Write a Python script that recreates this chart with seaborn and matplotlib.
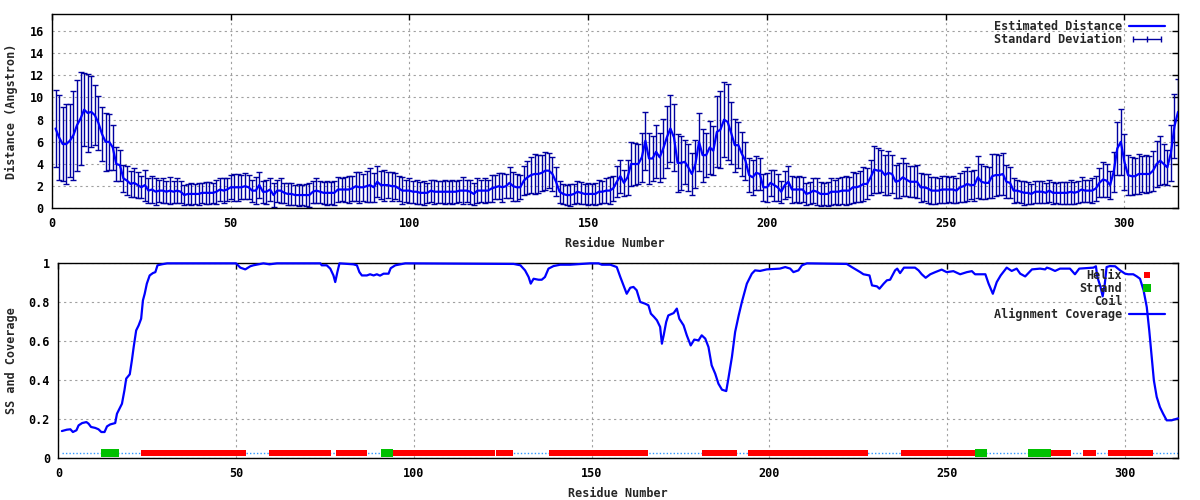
import numpy as np
import matplotlib
matplotlib.use("Agg")
import matplotlib.pyplot as plt
from matplotlib.lines import Line2D
from matplotlib.legend_handler import HandlerLine2D
import seaborn as sns

sns.set_style("white")
plt.rcParams['font.family'] = ['DejaVu Sans Mono', 'DejaVu Sans']
plt.rcParams['font.weight'] = 'bold'
plt.rcParams['axes.labelweight'] = 'bold'
plt.rcParams['font.size'] = 8.5

# --- data ---
N_RES = 315
residues = np.arange(1, N_RES + 1)

distance = [
    7.2, 6.4, 5.8, 5.8, 6.1, 6.6, 7.5, 8.1, 8.9, 8.6,
    8.7, 8.4, 7.7, 6.7, 6.0, 6.0, 5.5, 4.0, 3.9, 2.7,
    2.5, 2.2, 2.3, 2.1, 1.9, 2.1, 1.6, 1.7, 1.5, 1.6,
    1.6, 1.5, 1.6, 1.5, 1.6, 1.5, 1.2, 1.3, 1.3, 1.3,
    1.3, 1.4, 1.4, 1.4, 1.4, 1.5, 1.7, 1.6, 1.7, 1.9,
    1.9, 1.9, 1.9, 2.0, 1.9, 1.6, 1.6, 2.1, 1.5, 1.5,
    1.7, 1.2, 1.6, 1.6, 1.4, 1.3, 1.3, 1.2, 1.2, 1.2,
    1.2, 1.2, 1.5, 1.6, 1.5, 1.4, 1.4, 1.4, 1.4, 1.7,
    1.7, 1.7, 1.7, 1.8, 2.0, 1.9, 1.9, 2.0, 2.1, 1.9,
    2.4, 2.1, 2.1, 2.1, 2.0, 2.0, 1.8, 1.6, 1.6, 1.6,
    1.5, 1.5, 1.4, 1.4, 1.4, 1.6, 1.5, 1.5, 1.5, 1.5,
    1.5, 1.5, 1.5, 1.6, 1.6, 1.6, 1.5, 1.3, 1.6, 1.6,
    1.6, 1.6, 1.8, 1.9, 2.0, 1.9, 2.0, 2.3, 2.0, 1.9,
    1.9, 2.5, 2.8, 3.0, 3.1, 3.1, 3.2, 3.4, 3.4, 3.1,
    2.4, 1.5, 1.3, 1.2, 1.2, 1.3, 1.5, 1.4, 1.3, 1.3,
    1.3, 1.3, 1.5, 1.5, 1.6, 1.6, 1.8, 2.4, 2.9, 2.3,
    2.8, 4.0, 4.0, 4.0, 4.6, 6.1, 4.5, 4.5, 5.1, 4.6,
    5.4, 6.4, 7.2, 6.4, 4.1, 4.1, 4.2, 3.7, 3.1, 4.0,
    6.0, 4.8, 4.8, 5.5, 5.2, 6.9, 7.1, 8.0, 7.8, 6.8,
    5.7, 5.7, 4.9, 4.3, 3.0, 2.8, 3.2, 3.1, 1.9, 1.9,
    2.3, 2.1, 1.9, 1.5, 2.1, 2.4, 1.7, 1.7, 1.7, 1.7,
    1.3, 1.4, 1.6, 1.5, 1.3, 1.3, 1.3, 1.5, 1.5, 1.5,
    1.6, 1.6, 1.6, 1.9, 1.9, 2.0, 2.2, 2.2, 2.8, 3.5,
    3.4, 3.4, 3.0, 3.2, 3.1, 2.4, 2.5, 2.8, 2.6, 2.4,
    2.4, 2.4, 1.9, 1.9, 1.8, 1.6, 1.6, 1.6, 1.7, 1.7,
    1.7, 1.7, 1.6, 1.9, 2.0, 2.2, 2.1, 2.1, 2.8, 2.4,
    2.3, 2.3, 2.9, 3.0, 3.0, 3.1, 2.4, 2.3, 1.6, 1.6,
    1.5, 1.4, 1.4, 1.3, 1.5, 1.5, 1.5, 1.4, 1.6, 1.4,
    1.4, 1.4, 1.4, 1.4, 1.5, 1.4, 1.5, 1.7, 1.6, 1.6,
    1.6, 1.8, 2.3, 2.6, 2.5, 2.1, 3.3, 5.4, 6.0, 4.2,
    3.0, 2.9, 2.9, 3.1, 3.1, 3.1, 3.1, 3.4, 4.0, 4.3,
    4.0, 3.7, 5.0, 7.4, 8.7,
]

std_dev = [
    3.5, 3.8, 3.3, 3.6, 3.3, 4.0, 4.1, 4.2, 3.3, 3.5,
    3.2, 2.7, 2.4, 2.4, 2.6, 2.5, 2.0, 1.5, 1.4, 1.2,
    1.3, 1.2, 1.3, 1.2, 1.0, 1.4, 1.1, 1.2, 1.2, 1.0,
    1.1, 1.0, 1.2, 1.0, 1.1, 1.0, 0.9, 0.9, 1.0, 0.9,
    1.0, 0.9, 1.0, 1.0, 0.9, 1.1, 1.0, 1.1, 1.0, 1.1,
    1.2, 1.2, 1.1, 1.2, 1.1, 1.0, 1.2, 1.2, 1.0, 1.1,
    1.0, 1.1, 1.0, 1.1, 0.9, 1.0, 1.0, 0.9, 1.0, 0.9,
    1.0, 1.1, 1.0, 1.1, 1.0, 1.0, 1.1, 1.0, 1.1, 1.1,
    1.0, 1.1, 1.2, 1.1, 1.3, 1.4, 1.2, 1.4, 1.5, 1.3,
    1.4, 1.3, 1.4, 1.2, 1.3, 1.2, 1.1, 1.2, 1.0, 1.1,
    1.0, 1.1, 1.0, 1.1, 0.9, 1.0, 1.1, 1.0, 1.0, 1.1,
    1.0, 1.1, 1.0, 1.0, 1.2, 1.0, 1.1, 1.0, 1.1, 1.0,
    1.1, 1.0, 1.2, 1.1, 1.2, 1.3, 1.1, 1.4, 1.3, 1.2,
    1.1, 1.3, 1.5, 1.6, 1.8, 1.7, 1.6, 1.7, 1.6, 1.5,
    1.3, 1.0, 0.9, 0.9, 1.0, 0.9, 1.0, 1.0, 0.9, 1.0,
    0.9, 1.0, 1.1, 1.0, 1.1, 1.2, 1.1, 1.4, 1.5, 1.2,
    1.6, 2.0, 1.9, 1.8, 2.2, 2.6, 2.3, 2.0, 2.4, 2.2,
    2.7, 2.8, 3.0, 3.0, 2.6, 2.4, 2.0, 2.1, 1.9, 2.2,
    2.6, 2.4, 2.0, 2.4, 2.2, 3.2, 3.5, 3.4, 3.4, 2.8,
    2.4, 2.1, 2.0, 1.7, 1.5, 1.6, 1.5, 1.4, 1.2, 1.3,
    1.2, 1.4, 1.2, 1.0, 1.3, 1.4, 1.2, 1.1, 1.2, 1.1,
    1.0, 1.0, 1.1, 1.2, 1.1, 1.0, 1.1, 1.2, 1.1, 1.2,
    1.2, 1.3, 1.2, 1.4, 1.3, 1.4, 1.5, 1.4, 1.6, 2.1,
    2.0, 1.9, 1.8, 2.0, 1.7, 1.5, 1.6, 1.7, 1.5, 1.4,
    1.4, 1.5, 1.3, 1.2, 1.3, 1.2, 1.2, 1.1, 1.2, 1.2,
    1.1, 1.2, 1.1, 1.3, 1.4, 1.5, 1.3, 1.4, 1.9, 1.6,
    1.5, 1.4, 2.0, 1.9, 1.8, 1.9, 1.5, 1.4, 1.1, 1.0,
    1.0, 1.1, 1.0, 0.9, 1.0, 1.0, 1.0, 0.9, 1.0, 1.0,
    0.9, 1.0, 1.0, 1.0, 1.1, 1.0, 1.0, 1.1, 1.0, 1.0,
    1.1, 1.1, 1.3, 1.6, 1.5, 1.3, 1.8, 2.4, 3.0, 2.5,
    1.8, 1.7, 1.6, 1.8, 1.6, 1.7, 1.6, 1.8, 2.1, 2.2,
    1.8, 1.6, 2.5, 2.9, 3.0,
]

cov_res = [
    1, 2.4, 3.4, 4.1, 5.1, 5.7, 6.7, 7.9, 8.5, 9.2, 10.4, 11.3, 12.1, 13.0,
    13.7, 14.6, 16.0, 16.5, 17.2, 17.9, 18.6, 19.1, 20.1, 20.7, 21.2, 21.9,
    22.6, 23.3, 23.8, 24.3, 24.9, 25.7, 26.6, 27.3, 27.9, 29.1, 30.6, 50.0,
    51.2, 52.6, 54.0, 54.9, 57.7, 59.4, 61.5, 73.7, 74.1, 75.5, 76.5, 77.4,
    77.9, 78.5, 79.1, 83.0, 84.0, 84.7, 85.4, 86.8, 87.7, 88.7, 89.6, 90.5,
    91.5, 92.9, 93.5, 94.8, 97.6, 128.1, 130.0, 131.3, 132.3, 132.9, 133.7,
    135.1, 136.0, 136.9, 137.9, 139.3, 141.2, 144.0, 149.6, 152.0, 152.9,
    155.3, 157.1, 158.1, 159.0, 159.9, 160.9, 161.8, 162.7, 163.7, 165.1,
    166.0, 166.7, 167.6, 168.4, 169.3, 169.8, 170.3, 171.0, 171.6, 173.1,
    174.0, 174.7, 175.9, 176.8, 177.9, 178.9, 180.1, 181.0, 182.0, 182.9,
    183.8, 184.8, 185.7, 186.7, 187.9, 188.5, 189.5, 190.4, 191.4, 192.3,
    193.7, 195.1, 196.0, 197.4, 199.3, 203.0, 204.5, 205.9, 206.8, 208.2,
    209.2, 210.6, 221.8, 223.2, 225.6, 226.5, 228.2, 228.9, 230.3, 231.0,
    232.2, 233.1, 234.0, 235.4, 236.0, 236.8, 237.9, 241.0, 242.0, 242.9,
    244.0, 245.3, 246.7, 248.5, 249.9, 251.8, 253.7, 255.6, 257.0, 257.9,
    260.8, 261.7, 262.9, 264.0, 265.1, 266.8, 268.2, 269.6, 270.6, 272.0,
    272.9, 273.9, 276.2, 277.6, 278.1, 279.0, 280.4, 281.8, 284.6, 286.0,
    287.2, 291.2, 291.9, 292.3, 293.2, 293.8, 294.4, 294.9, 295.8, 297.3,
    298.7, 300.1, 301.0, 302.4, 303.4, 304.3, 305.3, 306.2, 306.9, 307.6,
    308.2, 309.0, 309.9, 310.8, 311.8, 313.2, 315.0,
]
cov_val = [
    0.140, 0.147, 0.149, 0.135, 0.144, 0.169, 0.181, 0.186, 0.178, 0.161, 0.156, 0.149, 0.135, 0.135,
    0.164, 0.174, 0.181, 0.229, 0.255, 0.280, 0.349, 0.409, 0.431, 0.503, 0.571, 0.656,
    0.682, 0.716, 0.810, 0.844, 0.896, 0.938, 0.950, 0.955, 0.990, 0.995, 1.000, 1.000,
    0.978, 0.969, 0.985, 0.990, 1.000, 0.995, 1.000, 1.000, 0.990, 0.990, 0.973, 0.938,
    0.904, 0.955, 1.000, 0.995, 0.990, 0.955, 0.938, 0.938, 0.944, 0.938, 0.944, 0.937,
    0.947, 0.947, 0.975, 0.990, 1.000, 0.997, 0.990, 0.964, 0.930, 0.896, 0.921,
    0.916, 0.916, 0.930, 0.973, 0.986, 0.993, 0.993, 1.000, 1.000, 0.993,
    0.993, 0.981, 0.930, 0.887, 0.844, 0.875, 0.879, 0.862, 0.802, 0.793,
    0.785, 0.742, 0.725, 0.708, 0.674, 0.588, 0.631, 0.699, 0.733, 0.745,
    0.768, 0.716, 0.682, 0.631, 0.579, 0.609, 0.605, 0.631, 0.614, 0.571,
    0.477, 0.434, 0.383, 0.352, 0.345, 0.409, 0.520, 0.648, 0.733, 0.802,
    0.896, 0.947, 0.964, 0.961, 0.969, 0.973, 0.981, 0.973, 0.955, 0.964,
    0.990, 1.000, 0.997, 0.981, 0.955, 0.944, 0.938, 0.887, 0.882, 0.870,
    0.896, 0.913, 0.916, 0.964, 0.973, 0.950, 0.978, 0.978, 0.964, 0.944,
    0.926, 0.944, 0.955, 0.968, 0.955, 0.960, 0.944, 0.955, 0.960, 0.944,
    0.944, 0.896, 0.844, 0.904, 0.938, 0.978, 0.961, 0.973, 0.947, 0.933,
    0.950, 0.969, 0.973, 0.969, 0.978, 0.973, 0.961, 0.973, 0.973, 0.944,
    0.973, 0.978, 0.985, 0.930, 0.879, 0.831, 0.896, 0.981, 0.986, 0.985,
    0.964, 0.947, 0.944, 0.944, 0.933, 0.921, 0.862, 0.776, 0.656, 0.520,
    0.400, 0.315, 0.263, 0.229, 0.195, 0.195, 0.205,
]

helix_ranges = [(24, 52), (60, 76), (79, 86), (95, 122), (124, 127), (139, 165),
                (182, 190), (195, 227), (238, 258), (279, 284), (289, 291), (296, 307)]
strand_ranges = [(13, 16), (92, 93), (259, 260), (274, 278)]
SS_LEVEL = 0.03

dist_yticks = [0, 2, 4, 6, 8, 10, 12, 14, 16]
cov_yticks = [0, 0.2, 0.4, 0.6, 0.8, 1.0]
cov_yticklabels = ["0", "0.2", "0.4", "0.6", "0.8", "1"]
res_xticks = [0, 50, 100, 150, 200, 250, 300]

assert len(distance) == N_RES and len(std_dev) == N_RES
assert len(cov_res) == len(cov_val)

helix_res = np.concatenate([np.arange(a, b + 1) for a, b in helix_ranges])
strand_res = np.concatenate([np.arange(a, b + 1) for a, b in strand_ranges])

LINE_BLUE = '#0000ff'
BAR_BLUE = '#0000a0'
GRID = dict(color='#a0a0a0', linestyle=(0, (2, 3)), linewidth=0.8)


def style_axes(ax):
    ax.set_axisbelow(True)
    ax.grid(True, **GRID)
    for sp in ax.spines.values():
        sp.set_color('black')
        sp.set_linewidth(1.0)
    ax.tick_params(direction='in', length=4, width=1, top=True, right=True,
                   labelsize=8.5, pad=6, colors='black')


def right_align(leg):
    # gnuplot style: labels right-justified, samples on the right
    for col in leg._legend_box._children[-1]._children:
        col.align = "right"


fig = plt.figure(figsize=(12, 5), dpi=100)
ax1 = fig.add_axes([0.0433, 0.5833, 0.9384, 0.388])
ax2 = fig.add_axes([0.0486, 0.0833, 0.9331, 0.39])

# ---- top panel: estimated distance ----
ax1.errorbar(residues, distance, yerr=std_dev, fmt='none', ecolor=BAR_BLUE,
             elinewidth=1.0, capsize=2, capthick=1.0, zorder=2)
sns.lineplot(x=residues, y=distance, ax=ax1, color=LINE_BLUE, linewidth=1.6,
             estimator=None, sort=False, zorder=3)
style_axes(ax1)
ax1.set_xlim(0, 315)
ax1.set_ylim(0, 17.5)
ax1.set_xticks(res_xticks)
ax1.set_yticks(dist_yticks)
ax1.set_xlabel("Residue Number", fontsize=8.5, labelpad=5)
ax1.set_ylabel("Distance (Angstron)", fontsize=8.5, labelpad=8)

h_est = Line2D([], [], color=LINE_BLUE, lw=1.6)
h_std = Line2D([], [], color=BAR_BLUE, lw=1.0, marker='|', ms=5, mew=1.0)
leg1 = ax1.legend([h_est, h_std], ["Estimated Distance", "Standard Deviation"],
                  loc='upper right', bbox_to_anchor=(0.995, 1.01),
                  frameon=False, markerfirst=False,
                  handlelength=3.0, handletextpad=0.6, labelspacing=0.0,
                  borderaxespad=0.25, fontsize=8.5,
                  handler_map={h_std: HandlerLine2D(numpoints=3)})
right_align(leg1)

# ---- bottom panel: secondary structure and coverage ----
ax2.plot([1, N_RES], [SS_LEVEL, SS_LEVEL], color='#3399ff', lw=1.0,
         linestyle=(0, (1, 1.5)), zorder=2)
sns.scatterplot(x=helix_res, y=np.full(len(helix_res), SS_LEVEL), ax=ax2,
                marker='s', s=14, color='#ff0000', linewidth=0, zorder=3)
sns.scatterplot(x=strand_res, y=np.full(len(strand_res), SS_LEVEL), ax=ax2,
                marker='s', s=28, color='#00c000', linewidth=0, zorder=3)
sns.lineplot(x=cov_res, y=cov_val, ax=ax2, color=LINE_BLUE, linewidth=1.6,
             estimator=None, sort=False, zorder=4, clip_on=False)
style_axes(ax2)
ax2.set_xlim(0, 315)
ax2.set_ylim(0, 1)
ax2.set_xticks(res_xticks)
ax2.set_yticks(cov_yticks)
ax2.set_yticklabels(cov_yticklabels)
ax2.set_xlabel("Residue Number", fontsize=8.5, labelpad=5)
ax2.set_ylabel("SS and Coverage", fontsize=8.5, labelpad=8)

h_helix = Line2D([], [], ls='none', marker='s', ms=3.8, color='#ff0000', mew=0)
h_strand = Line2D([], [], ls='none', marker='s', ms=5.2, color='#00c000', mew=0)
h_coil = Line2D([], [], ls='none')
h_cov = Line2D([], [], color=LINE_BLUE, lw=1.6)
leg2 = ax2.legend([h_helix, h_strand, h_coil, h_cov],
                  ["Helix", "Strand", "Coil", "Alignment Coverage"],
                  loc='upper right', bbox_to_anchor=(0.995, 1.01),
                  frameon=False, markerfirst=False,
                  handlelength=3.0, handletextpad=0.6, labelspacing=0.0,
                  borderaxespad=0.25, fontsize=8.5)
right_align(leg2)

fig.savefig("out.png", dpi=100)
